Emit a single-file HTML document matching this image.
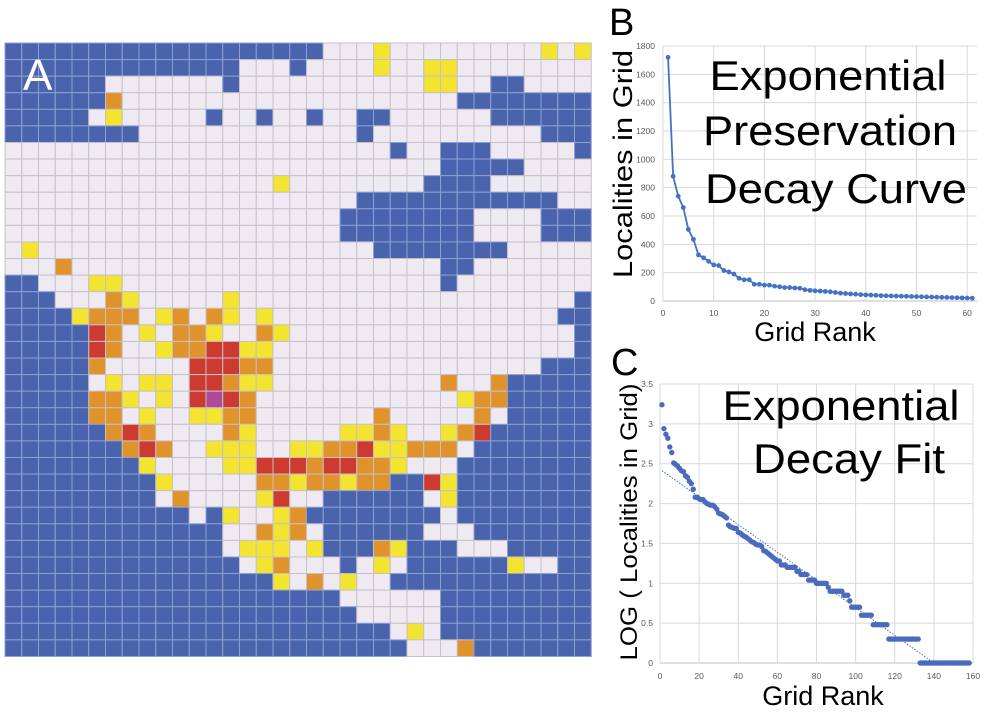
<!DOCTYPE html>
<html><head><meta charset="utf-8"><style>
html,body{margin:0;padding:0;background:#fff;}
svg{display:block;font-family:"Liberation Sans",sans-serif;}
</style></head><body>
<svg id="fig" width="985" height="712" viewBox="0 0 985 712" xmlns="http://www.w3.org/2000/svg">
<g id="map"></g>
<text x="23" y="90" font-size="44" fill="#fff">A</text>
<g id="chartB"></g>
<g id="chartC"></g>
<text x="609" y="35" font-size="38" fill="#000">B</text>
<text x="611" y="375" font-size="38" fill="#000">C</text>
<g font-size="42" text-anchor="middle" fill="#000">
<text x="828" y="90" textLength="237" lengthAdjust="spacingAndGlyphs">Exponential</text>
<text x="830" y="145" textLength="254" lengthAdjust="spacingAndGlyphs">Preservation</text>
<text x="836" y="203" textLength="262" lengthAdjust="spacingAndGlyphs">Decay Curve</text>
</g>
<g font-size="42" text-anchor="middle" fill="#000">
<text x="841" y="420" textLength="237" lengthAdjust="spacingAndGlyphs">Exponential</text>
<text x="849" y="473" textLength="192" lengthAdjust="spacingAndGlyphs">Decay Fit</text>
</g>
<text x="815" y="341" font-size="27" text-anchor="middle">Grid Rank</text>
<text transform="translate(632,164) rotate(-90)" font-size="27" text-anchor="middle" textLength="228" lengthAdjust="spacingAndGlyphs">Localities in Grid</text>
<text x="823" y="705" font-size="27" text-anchor="middle">Grid Rank</text>
<text transform="translate(637,522) rotate(-90)" font-size="24" text-anchor="middle" textLength="277" lengthAdjust="spacingAndGlyphs">LOG ( Localities in Grid)</text>
</svg>
<script>
const gridRows = [
"BBBBBBBBBBBBBBBBBBBWWWYWWWWWWWWWYWY",
"BBBBBBBBBBBBBBWWWBWWWWYWWYYWWWWWWWW",
"BBBBBBWWWWWWWBWWWWWWWWWWWYYWWBBWWWW",
"BBBBBBOWWWWWWWWWWWWWWWWWWWWBBBBBBBB",
"BBBBBWYWWWWWBWWBWWBWWBBWWWWWWBBBBBB",
"BBBBBBBBWWWWWWWWWWWWWBWWWWWWWWWWBBB",
"WWWWWWWWWWWWWWWWWWWWWWWBWWBBBWWWWWB",
"WWWWWWWWWWWWWWWWWWWWWWWWWWBBBBBWWWW",
"WWWWWWWWWWWWWWWWYWWWWWWWWBBBBWWWWWW",
"WWWWWWWWWWWWWWWWWWWWWBBBBBBBBBBBBWW",
"WWWWWWWWWWWWWWWWWWWWBBBBBBBBWWWWBBB",
"WWWWWWWWWWWWWWWWWWWWBBBBBBBBWWWWBBB",
"WYWWWWWWWWWWWWWWWWWWWWBBBBBBBBWWWWW",
"WWWOWWWWWWWWWWWWWWWWWWWWWWBBWWWWWWW",
"BBWWWYYWWWWWWWWWWWWWWWWWWWBWWWWWWWW",
"BBBWWWOYWWWWWYWWWWWWWWWWWWWWWWWWWWB",
"BBBBYOOOWYOWOYWYWWWWWWWWWWWWWWWWWBB",
"BBBBBROWYWOOYWWOYWWWWWWWWWWWWWWWWWB",
"BBBBBROWWYOORRYYWWWWWWWWWWWWWWWWWWB",
"BBBBBOWWWWWRRROOWWWWWWWWWWWWWWWWBBB",
"BBBBBWYWYYWRROYYWWWWWWWWWWOWWOBBBBB",
"BBBBBOOYWYWRMROWWWWWWWWWWWWYOOBBBBB",
"BBBBBOOWYWWYYOOWWWWWWWOWWWWWOWBBBBB",
"BBBBBBOROWWWWOYWWWWWYYOYWWYORBBBBBB",
"BBBBBBBOROWWYYYWWYYOORYYOOOWBBBBBBB",
"BBBBBBBBYWWWWYYRRRORROOYWWWBBBBBBBB",
"BBBBBBBBBYWWWWWOOYOOYOOBBRYBBBBBBBB",
"BBBBBBBBBWOWWWWYRWWBBBBBBWYBBBBBBBB",
"BBBBBBBBBBBWBYWWYOBBBBBBBBWBBBBBBBB",
"BBBBBBBBBBBBBWWOYOWBBBBBBWWWBBBBBBB",
"BBBBBBBBBBBBBWYYYWYBBBOYBBBWWWBBBBB",
"BBBBBBBBBBBBBBWYOWWWBWYWBBBBBBYWWBB",
"BBBBBBBBBBBBBBBBYWOWYWWBBBBBBBBBBBB",
"BBBBBBBBBBBBBBBBBBBBWWWWWWBBBBBBBBB",
"BBBBBBBBBBBBBBBBBBBBBWWWWWBBBBBBBBB",
"BBBBBBBBBBBBBBBBBBBBBBBWYWBBBBBBBBB",
"BBBBBBBBBBBBBBBBBBBBBBBBWWWOBBBBBBB"
];
const cellColors = {B:"#4a63ad",W:"#efeaf1",Y:"#f2e42f",O:"#e0922b",R:"#cc3a30",M:"#b04a98"};
const cellStroke = {B:"#8e9fd4",W:"#c6c0ca",Y:"#c6c0ca",O:"#c6c0ca",R:"#c6c0ca",M:"#c6c0ca"};

const rankB = [1,2,3,4,5,6,7,8,9,10,11,12,13,14,15,16,17,18,19,20,21,22,23,24,25,26,27,28,29,30,31,32,33,34,35,36,37,38,39,40,41,42,43,44,45,46,47,48,49,50,51,52,53,54,55,56,57,58,59,60,61];
const localitiesB = [1720,880,740,660,505,435,325,305,280,255,250,215,205,190,160,150,150,118,118,112,112,105,100,95,95,92,90,80,75,72,70,68,65,60,55,53,50,48,45,43,42,40,38,37,36,35,34,33,32,31,30,29,28,27,26,25,24,23,22,21,20];
const yTicksB = [0,200,400,600,800,1000,1200,1400,1600,1800];
const xTicksB = [0,10,20,30,40,50,60];

const logC = [3.24,2.94,2.87,2.82,2.71,2.64,2.51,2.49,2.47,2.44,2.41,2.40,2.35,2.33,2.28,2.25,2.18,2.08,2.08,2.06,
2.05,2.05,2.02,2.00,1.99,1.98,1.98,1.96,1.93,1.88,1.87,1.86,1.84,1.82,1.73,1.71,1.70,1.69,1.69,1.64,
1.63,1.61,1.59,1.58,1.56,1.54,1.52,1.51,1.49,1.48,1.48,1.46,1.41,1.40,1.38,1.36,1.34,1.32,1.30,1.28,
1.28,1.23,1.23,1.23,1.20,1.20,1.20,1.20,1.20,1.15,1.15,1.11,1.11,1.11,1.11,1.04,1.04,1.04,1.04,1.00,
1.00,1.00,1.00,1.00,1.00,0.95,0.90,0.90,0.90,0.90,0.90,0.90,0.90,0.85,0.85,0.85,0.78,0.70,0.70,0.70,
0.70,0.70,0.60,0.60,0.60,0.60,0.60,0.60,0.48,0.48,0.48,0.48,0.48,0.48,0.48,0.48,0.30,0.30,0.30,0.30,
0.30,0.30,0.30,0.30,0.30,0.30,0.30,0.30,0.30,0.30,0.30,0.30,0,0,0,0,0,0,0,0,
0,0,0,0,0,0,0,0,0,0,0,0,0,0,0,0,0,0];
const trendC = [2.43, -0.01743];
const trendRangeC = [1, 140];
const yTicksC = [0,0.5,1,1.5,2,2.5,3,3.5];
const xTicksC = [0,20,40,60,80,100,120,140,160];

const NS = "http://www.w3.org/2000/svg";
function mk(tag, attrs, parent){const e=document.createElementNS(NS,tag);for(const k in attrs)e.setAttribute(k,attrs[k]);parent.appendChild(e);return e;}

(function(){
  const g=document.getElementById('map');
  const x0=5,y0=43,cw=16.75,ch=16.58;
  gridRows.forEach((row,r)=>{
    for(let c=0;c<row.length;c++){
      const k=row[c];
      const rc=mk('rect',{x:x0+c*cw,y:y0+r*ch,width:cw,height:ch,fill:cellColors[k],stroke:cellStroke[k],'stroke-width':1},g);
      
      
    }
  });
})();

(function(){
  const g=document.getElementById('chartB');
  const L=663,R=977,T=46,Bt=301;
  const xs=v=>L+v*5.07, ys=v=>Bt-v*(Bt-T)/1800;
  yTicksB.forEach(t=>{
    const ln=mk('line',{x1:L,x2:R,y1:ys(t),y2:ys(t),stroke:t===0?'#bfbfbf':'#d9d9d9','stroke-width':1},g);
    
    
    const tx=mk('text',{x:L-8,y:ys(t)+3,'font-size':8.5,fill:'#595959','text-anchor':'end'},g);
    tx.textContent=t;
    
    
  });
  xTicksB.forEach(t=>{
    const ln=mk('line',{x1:xs(t),x2:xs(t),y1:T,y2:Bt,stroke:'#d9d9d9','stroke-width':1},g);
    
    
    const tx=mk('text',{x:xs(t),y:Bt+15,'font-size':8.5,fill:'#595959','text-anchor':'middle'},g);
    tx.textContent=t;
    
    
  });
  const pts=rankB.map((r,i)=>xs(r)+','+ys(localitiesB[i])).join(' ');
  const pl=mk('polyline',{points:pts,fill:'none',stroke:'#4472c4','stroke-width':1.8},g);
  
  
  rankB.forEach((r,i)=>{
    const c=mk('circle',{cx:xs(r),cy:ys(localitiesB[i]),r:2.4,fill:'#4472c4'},g);
    
    
  });
})();

(function(){
  const g=document.getElementById('chartC');
  const L=660,R=973,T=384,Bt=663;
  const xs=v=>L+v*(R-L)/160, ys=v=>Bt-v*(Bt-T)/3.5;
  yTicksC.forEach(t=>{
    const ln=mk('line',{x1:L,x2:R,y1:ys(t),y2:ys(t),stroke:t===0?'#bfbfbf':'#d9d9d9','stroke-width':1},g);
    
    
    const tx=mk('text',{x:L-7,y:ys(t)+3,'font-size':8.5,fill:'#595959','text-anchor':'end'},g);
    tx.textContent=t;
    
    
  });
  xTicksC.forEach(t=>{
    const ln=mk('line',{x1:xs(t),x2:xs(t),y1:T,y2:Bt,stroke:'#d9d9d9','stroke-width':1},g);
    
    
    const tx=mk('text',{x:xs(t),y:Bt+16,'font-size':8.5,fill:'#595959','text-anchor':'middle'},g);
    tx.textContent=t;
    
    
  });
  logC.forEach((v,i)=>{
    const c=mk('circle',{cx:xs(i+1),cy:ys(v),r:2.7,fill:'#4a6bbd'},g);
    
    
  });
  const a=trendRangeC[0], b=trendRangeC[1];
  const tl=mk('line',{x1:xs(a),y1:ys(trendC[0]+trendC[1]*a),x2:xs(b),y2:ys(Math.max(0,trendC[0]+trendC[1]*b)),stroke:'#4472c4','stroke-width':1,'stroke-dasharray':'1.5,1.5'},g);
  
  
})();
</script>
</body></html>
